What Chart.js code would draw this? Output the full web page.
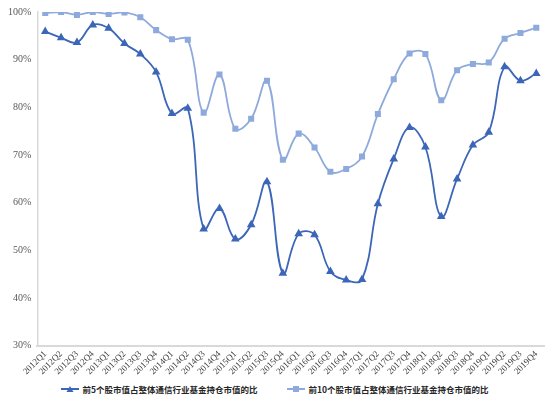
<!DOCTYPE html>
<html lang="zh">
<head>
    <meta charset="UTF-8">
    <title>通信行业基金持仓集中度</title>
    <script src="https://cdn.jsdelivr.net/npm/chart.js"></script>
    <style>
        html, body { margin: 0; padding: 0; background: #fff; }
        .chart-container { width: 550px; height: 380px; position: relative; }
        /* 图例放在画布下面, 用 HTML 画 */
        .legend {
            width: 550px; height: 17px;
            display: flex; justify-content: center; align-items: center;
            gap: 30px;
            font-family: "Noto Sans CJK SC", sans-serif;
            font-size: 8.5px; font-weight: bold; color: #262626;
        }
        .legend span { display: flex; align-items: center; white-space: nowrap; }
        .legend svg { margin-right: 3px; }
    </style>
</head>
<body>
    <div class="chart-container">
        <canvas id="myChart"></canvas>
    </div>
    <div class="legend" id="legend"></div>

    <script>
        // 季度
        const quarters = [
            '2012Q1','2012Q2','2012Q3','2012Q4','2013Q1','2013Q2','2013Q3','2013Q4',
            '2014Q1','2014Q2','2014Q3','2014Q4','2015Q1','2015Q2','2015Q3','2015Q4',
            '2016Q1','2016Q2','2016Q3','2016Q4','2017Q1','2017Q2','2017Q3','2017Q4',
            '2018Q1','2018Q2','2018Q3','2018Q4','2019Q1','2019Q2','2019Q3','2019Q4'
        ];

        // 前5个股占比 (%)
        const top5 = [
            95.9, 94.6, 93.6, 97.3, 96.6, 93.4, 91.2, 87.4,
            78.7, 79.8, 54.5, 58.8, 52.4, 55.4, 64.4, 45.2,
            53.5, 53.3, 45.6, 43.8, 43.9, 59.8, 69.2, 75.8,
            71.7, 57.1, 65.0, 72.1, 74.8, 88.5, 85.6, 87.1
        ];

        // 前10个股占比 (%)
        const top10 = [
            99.8, 100.0, 99.4, 100.0, 99.6, 99.9, 98.9, 96.2,
            94.3, 94.2, 78.9, 86.9, 75.5, 77.6, 85.6, 69.0,
            74.5, 71.6, 66.5, 67.1, 69.7, 78.6, 85.9, 91.3,
            91.2, 81.5, 87.8, 89.1, 89.4, 94.4, 95.6, 96.7
        ];

        const seriesNames = [
            '前5个股市值占整体通信行业基金持仓市值的比',
            '前10个股市值占整体通信行业基金持仓市值的比'
        ];

        const darkBlue = '#3c66b8';
        const lightBlue = '#8eaadc';

        const chartData = {
            labels: quarters,
            datasets: [{
                label: seriesNames[0],
                data: top5,
                borderColor: darkBlue,
                backgroundColor: darkBlue,
                borderWidth: 1.8,
                pointStyle: 'triangle',
                pointRadius: 3.2,
                tension: 0.4
            }, {
                label: seriesNames[1],
                data: top10,
                borderColor: lightBlue,
                backgroundColor: lightBlue,
                borderWidth: 1.8,
                pointStyle: 'rect',
                pointRadius: 3,
                tension: 0.4
            }]
        };

        const chartConfig = {
            type: 'line',
            data: chartData,
            options: {
                responsive: true,
                maintainAspectRatio: false,
                animation: false,
                layout: { padding: { top: 10, right: 5, left: 2, bottom: 0 } },
                plugins: {
                    tooltip: { enabled: false },
                    legend: { display: false }
                },
                scales: {
                    x: {
                        offset: true,
                        grid: { display: false, drawTicks: false },
                        border: { color: '#d9d9d9', width: 2 },
                        ticks: {
                            autoSkip: false,
                            minRotation: 45,
                            maxRotation: 45,
                            padding: 3,
                            color: '#404040',
                            font: { family: '"Liberation Serif"', size: 9 }
                        }
                    },
                    y: {
                        min: 30,
                        max: 100,
                        grid: { display: false, drawTicks: false },
                        border: { color: '#d9d9d9', width: 1.5 },
                        ticks: {
                            stepSize: 10,
                            padding: 6,
                            color: '#595959',
                            font: { family: '"Liberation Serif"', size: 10 },
                            callback: v => v + '%'
                        }
                    }
                }
            }
        };

        const myChart = new Chart(document.getElementById('myChart'), chartConfig);

        // 图例: 线段 + 标记 + 名称
        const marks = [
            '<polygon points="9,1 12.5,7 5.5,7" />',
            '<rect x="6" y="1" width="6" height="6" />'
        ];
        document.getElementById('legend').innerHTML = myChart.data.datasets.map((ds, i) =>
            '<span><svg width="18" height="8" fill="' + ds.borderColor + '">' +
            '<line x1="0" y1="4" x2="18" y2="4" stroke="' + ds.borderColor + '" stroke-width="2" />' +
            marks[i] + '</svg>' + ds.label + '</span>'
        ).join('');
    </script>
</body>
</html>
